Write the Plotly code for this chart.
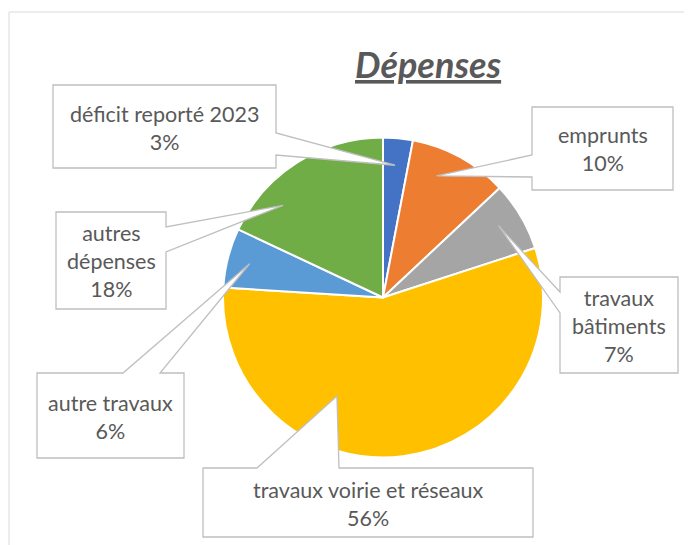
import math
import plotly.graph_objects as go

# ---- data ----
categories = ["déficit reporté 2023", "emprunts", "travaux bâtiments",
              "travaux voirie et réseaux", "autre travaux", "autres dépenses"]
values = [3, 10, 7, 56, 6, 18]
label_text = ["déficit reporté 2023", "emprunts", "travaux<br>bâtiments",
              "travaux voirie et réseaux", "autre travaux", "autres<br>dépenses"]
colors = ["#4472C4", "#ED7D31", "#A5A5A5", "#FFC000", "#5B9BD5", "#70AD47"]

# ---- layout constants (pixels, in page coordinates) ----
W, H = 692, 545
OFF = 8  # page body margin
CX, CY, R = 383, 297.5, 160
TEXT_COLOR = "#595959"
FONT = "Lato, Carlito, Calibri, sans-serif"

# callout boxes: (x0, y0, x1, y1), wedge side, wedge base positions,
# tip position inside slice (fraction of slice span, fraction of radius)
callouts = [
    dict(box=(53, 85, 276, 168), side="right", base=(133, 155), t=0.48, rr=0.83),
    dict(box=(532, 107, 673, 190), side="left", base=(155, 177), t=0.36, rr=0.83),
    dict(box=(560, 277, 678, 373), side="left", base=(292, 313), t=0.45, rr=0.85),
    dict(box=(203, 468, 533, 537), side="top", base=(257, 339), t=0.66, rr=0.68),
    dict(box=(37, 373, 184, 458), side="top", base=(123, 160), t=0.49, rr=0.86),
    dict(box=(56, 212, 166, 309), side="right", base=(227, 252), t=0.27, rr=0.85),
]


def px(x, y):
    return (x - OFF) / W, 1 - (y - OFF) / H


total = sum(values)
fig = go.Figure()
fig.add_trace(go.Pie(
    labels=categories, values=values, sort=False, direction="clockwise",
    rotation=0, textinfo="none", hoverinfo="label+percent",
    marker=dict(colors=colors, line=dict(color="white", width=2)),
    showlegend=False,
    domain=dict(x=[(CX - OFF - R) / W, (CX - OFF + R) / W],
                y=[(H - (CY - OFF) - R) / H, (H - (CY - OFF) + R) / H]),
))

shapes = []
annotations = []

# outer chart frame
fx0, fy0 = px(9, 12)
fx1, fy1 = px(720, 580)
shapes.append(dict(type="rect", xref="paper", yref="paper", x0=fx0, y0=fy1,
                   x1=fx1, y1=fy0, line=dict(color="#D9D9D9", width=1),
                   fillcolor="rgba(0,0,0,0)", layer="below"))

cum = 0
for i, v in enumerate(values):
    start = cum / total * 360
    span = v / total * 360
    cum += v
    c = callouts[i]
    ang = math.radians(start + c["t"] * span)
    tx = CX + c["rr"] * R * math.sin(ang)
    ty = CY - c["rr"] * R * math.cos(ang)
    x0, y0, x1, y1 = c["box"]
    b1, b2 = c["base"]
    pts = [(x0, y0)]
    if c["side"] == "top":
        pts += [(b1, y0), (tx, ty), (b2, y0)]
    pts.append((x1, y0))
    if c["side"] == "right":
        pts += [(x1, b1), (tx, ty), (x1, b2)]
    pts.append((x1, y1))
    pts.append((x0, y1))
    if c["side"] == "left":
        pts += [(x0, b2), (tx, ty), (x0, b1)]
    path = ""
    for k, (a, b) in enumerate(pts):
        pxx, pyy = px(a, b)
        path += ("M" if k == 0 else "L") + f"{pxx:.5f},{pyy:.5f} "
    path += "Z"
    shapes.append(dict(type="path", xref="paper", yref="paper", path=path,
                       fillcolor="white", line=dict(color="#BFBFBF", width=1.3),
                       layer="above"))
    pct = round(v / total * 100)
    ax, ay = px((x0 + x1) / 2, (y0 + y1) / 2 + 1)
    annotations.append(dict(
        x=ax, y=ay, xref="paper", yref="paper", showarrow=False,
        text=f"{label_text[i]}<br>{pct}%", align="center",
        xanchor="center", yanchor="middle",
        font=dict(family=FONT, size=21.5, color=TEXT_COLOR)))

tx_, ty_ = px(428, 64)
annotations.append(dict(
    x=tx_, y=ty_, xref="paper", yref="paper", showarrow=False,
    text="<b><i><u>Dépenses</u></i></b>", xanchor="center", yanchor="middle",
    font=dict(family=FONT, size=36, color=TEXT_COLOR)))

fig.update_layout(
    width=W, height=H, margin=dict(l=0, r=0, t=0, b=0),
    paper_bgcolor="white", plot_bgcolor="white",
    shapes=shapes, annotations=annotations,
)

fig.write_html("out.html")
